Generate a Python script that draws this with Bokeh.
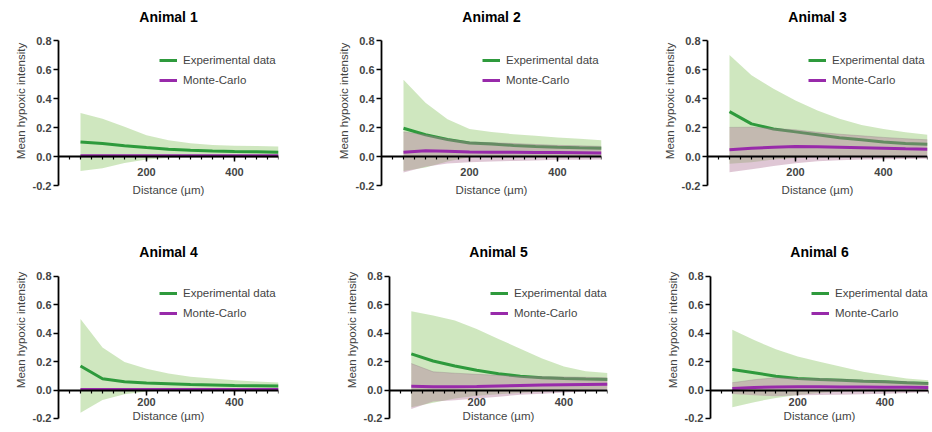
import numpy as np
from bokeh.plotting import figure
from bokeh.layouts import column, row
from bokeh.models import (Range1d, FixedTicker, Legend, LegendItem, LinearAxis,
                          NumeralTickFormatter, Label)
from bokeh.embed import file_html
from bokeh.resources import INLINE

# ---------------- data ----------------
distance = [50, 100, 150, 200, 250, 300, 350, 400, 450, 500]

titles = ["Animal 1", "Animal 2", "Animal 3", "Animal 4", "Animal 5", "Animal 6"]

# Experimental data: mean line with upper / lower edge of the shaded band
exp_mean_1 = [0.100, 0.090, 0.075, 0.062, 0.050, 0.043, 0.038, 0.035, 0.033, 0.030]
exp_upper_1 = [0.300, 0.260, 0.205, 0.147, 0.112, 0.091, 0.080, 0.075, 0.073, 0.070]
exp_lower_1 = [-0.100, -0.080, -0.045, -0.020, -0.010, -0.005, -0.005, -0.005, -0.007, -0.010]
mc_mean_1 = [0.005, 0.005, 0.005, 0.005, 0.005, 0.005, 0.005, 0.005, 0.005, 0.005]
mc_sd_1 = [0.004, 0.004, 0.004, 0.004, 0.004, 0.004, 0.004, 0.004, 0.004, 0.004]

exp_mean_2 = [0.195, 0.150, 0.117, 0.094, 0.087, 0.076, 0.069, 0.064, 0.060, 0.057]
exp_upper_2 = [0.530, 0.370, 0.257, 0.190, 0.169, 0.154, 0.143, 0.132, 0.122, 0.112]
exp_lower_2 = [-0.100, -0.075, -0.035, -0.005, 0.000, 0.000, 0.000, 0.000, 0.000, 0.000]
mc_mean_2 = [0.030, 0.040, 0.037, 0.031, 0.030, 0.030, 0.028, 0.027, 0.026, 0.025]
mc_sd_2 = [0.140, 0.110, 0.085, 0.070, 0.065, 0.060, 0.055, 0.050, 0.048, 0.045]

exp_mean_3 = [0.310, 0.225, 0.190, 0.170, 0.150, 0.130, 0.115, 0.100, 0.090, 0.085]
exp_upper_3 = [0.700, 0.560, 0.467, 0.386, 0.317, 0.260, 0.218, 0.190, 0.168, 0.150]
exp_lower_3 = [-0.050, -0.040, -0.020, -0.010, 0.000, 0.000, 0.005, 0.005, 0.005, 0.010]
mc_mean_3 = [0.046, 0.057, 0.064, 0.069, 0.067, 0.064, 0.061, 0.057, 0.053, 0.050]
mc_sd_3 = [0.155, 0.145, 0.130, 0.115, 0.100, 0.090, 0.082, 0.075, 0.070, 0.065]

exp_mean_4 = [0.170, 0.080, 0.058, 0.050, 0.045, 0.040, 0.036, 0.032, 0.030, 0.028]
exp_upper_4 = [0.500, 0.300, 0.198, 0.150, 0.117, 0.094, 0.081, 0.070, 0.060, 0.053]
exp_lower_4 = [-0.160, -0.070, -0.030, -0.010, 0.000, 0.005, 0.005, 0.005, 0.005, 0.005]
mc_mean_4 = [0.005, 0.005, 0.005, 0.005, 0.005, 0.005, 0.005, 0.005, 0.005, 0.005]
mc_sd_4 = [0.004, 0.004, 0.004, 0.004, 0.004, 0.004, 0.004, 0.004, 0.004, 0.004]

exp_mean_5 = [0.255, 0.205, 0.170, 0.140, 0.115, 0.097, 0.087, 0.082, 0.078, 0.075]
exp_upper_5 = [0.555, 0.525, 0.490, 0.430, 0.360, 0.292, 0.222, 0.167, 0.133, 0.120]
exp_lower_5 = [-0.120, -0.090, -0.060, -0.040, -0.030, -0.020, -0.010, 0.000, 0.005, 0.010]
mc_mean_5 = [0.027, 0.024, 0.024, 0.026, 0.029, 0.032, 0.035, 0.038, 0.040, 0.042]
mc_sd_5 = [0.160, 0.105, 0.095, 0.085, 0.075, 0.065, 0.060, 0.055, 0.050, 0.045]

exp_mean_6 = [0.145, 0.122, 0.098, 0.082, 0.075, 0.070, 0.063, 0.058, 0.051, 0.047]
exp_upper_6 = [0.425, 0.352, 0.288, 0.237, 0.200, 0.165, 0.129, 0.105, 0.082, 0.070]
exp_lower_6 = [-0.120, -0.085, -0.055, -0.035, -0.020, -0.010, -0.005, 0.000, 0.005, 0.010]
mc_mean_6 = [0.012, 0.018, 0.022, 0.023, 0.023, 0.022, 0.021, 0.020, 0.020, 0.019]
mc_sd_6 = [0.040, 0.055, 0.065, 0.060, 0.058, 0.055, 0.050, 0.045, 0.040, 0.033]

x_ticks = [200, 400]
x_minor_ticks = [0, 25, 50, 75, 100, 125, 150, 175, 200, 225, 250, 275, 300,
                 325, 350, 375, 400, 425, 450, 475, 500]
y_ticks = [-0.2, 0.0, 0.2, 0.4, 0.6, 0.8]

series_labels = ["Experimental data", "Monte-Carlo"]

panels = [
    (exp_mean_1, exp_upper_1, exp_lower_1, mc_mean_1, mc_sd_1),
    (exp_mean_2, exp_upper_2, exp_lower_2, mc_mean_2, mc_sd_2),
    (exp_mean_3, exp_upper_3, exp_lower_3, mc_mean_3, mc_sd_3),
    (exp_mean_4, exp_upper_4, exp_lower_4, mc_mean_4, mc_sd_4),
    (exp_mean_5, exp_upper_5, exp_lower_5, mc_mean_5, mc_sd_5),
    (exp_mean_6, exp_upper_6, exp_lower_6, mc_mean_6, mc_sd_6),
]

# ---------------- style ----------------
FONT = "Liberation Sans"
GREEN = "#2e9a3c"
PURPLE = "#982aaa"
GREEN_FILL = "#86c45e"
MC_FILL = "#b27a9c"

# (left border, frame width, right border) per panel
geom = [(58, 220, 45), (58, 220, 48), (58, 220, 3),
        (58, 220, 45), (66, 218, 42), (61, 218, 2)]
# (frame height, bottom border, y start, y end, legend y, title y)
rows_geom = [(201, 34, -0.31, 1.0758, 114, 185),
             (189, 6, -0.2423, 1.0887, 104, 173)]


def make_panel(k):
    r = k // 3
    left, fw, right = geom[k]
    fh, bottom, y0, y1, leg_y, title_y = rows_geom[r]
    p = figure(width=left + fw + right, height=fh + bottom,
               x_range=Range1d(0, 500), y_range=Range1d(y0, y1),
               x_axis_location=None, y_axis_location=None,
               output_backend="svg", toolbar_location=None,
               min_border_left=left, min_border_right=right,
               min_border_top=0, min_border_bottom=bottom)
    p.title.text = ""
    p.title.visible = False
    p.outline_line_color = None
    p.xgrid.visible = False
    p.ygrid.visible = False
    p.background_fill_color = "white"

    # panel title, centred over the plotting area
    p.add_layout(Label(x=250, y=title_y, y_units="screen", text=titles[k],
                       text_align="center", text_baseline="middle",
                       text_font=FONT, text_font_size="14px",
                       text_font_style="bold", text_color="black"))

    em, eu, el, mm, msd = (np.array(a) for a in panels[k])
    x = np.array(distance)

    p.varea(x=x, y1=el, y2=eu, fill_color=GREEN_FILL, fill_alpha=0.4)
    gl = p.line(x, em, line_color=GREEN, line_width=3)
    p.varea(x=x, y1=mm - msd, y2=mm + msd, fill_color=MC_FILL, fill_alpha=0.42)
    p.line(x, mm + msd, line_color="#8a7a80", line_width=0.6, line_alpha=0.5)
    pl = p.line(x, mm, line_color=PURPLE, line_width=3)

    # y axis
    ya = LinearAxis(ticker=FixedTicker(ticks=y_ticks),
                    formatter=NumeralTickFormatter(format="0.0"),
                    bounds=(-0.2, 0.8))
    ya.axis_label = "Mean hypoxic intensity"
    ya.axis_line_width = 1.8
    ya.major_tick_out = 5
    ya.major_tick_in = 0
    ya.minor_tick_out = 0
    ya.minor_tick_in = 0
    ya.major_tick_line_width = 1.5
    ya.major_label_standoff = 2
    ya.major_label_text_font = FONT
    ya.major_label_text_font_style = "bold"
    ya.major_label_text_font_size = "11px"
    ya.axis_label_text_font = FONT
    ya.axis_label_text_font_style = "normal"
    ya.axis_label_text_font_size = "11.5px"
    ya.axis_label_standoff = 3
    p.add_layout(ya, "left")

    # x axis crossing at y = 0
    xa = LinearAxis(ticker=FixedTicker(ticks=x_ticks, minor_ticks=x_minor_ticks),
                    fixed_location=0, bounds=(0, 500))
    xa.axis_label = "Distance (µm)"
    xa.axis_line_width = 1.8
    xa.major_tick_out = 5
    xa.major_tick_in = 0
    xa.minor_tick_out = 3
    xa.minor_tick_in = 0
    xa.major_tick_line_width = 1.5
    xa.minor_tick_line_width = 1.2
    xa.major_label_text_font = FONT
    xa.major_label_text_font_style = "bold"
    xa.major_label_text_font_size = "11px"
    xa.axis_label_text_font = FONT
    xa.axis_label_text_font_style = "normal"
    xa.axis_label_text_font_size = "11.5px"
    if r == 0:
        xa.major_label_standoff = 6
        xa.axis_label_standoff = 5
    else:
        xa.major_label_standoff = 3
        xa.axis_label_standoff = 0
    p.add_layout(xa, "below")

    legend = Legend(items=[LegendItem(label=series_labels[0], renderers=[gl]),
                           LegendItem(label=series_labels[1], renderers=[pl])],
                    location=(101, leg_y))
    legend.border_line_color = None
    legend.background_fill_alpha = 0
    legend.padding = 0
    legend.margin = 0
    legend.spacing = 6
    legend.glyph_width = 18
    legend.glyph_height = 14
    legend.label_height = 14
    legend.label_standoff = 6
    legend.label_text_font = FONT
    legend.label_text_font_size = "11.5px"
    legend.label_text_baseline = "middle"
    p.add_layout(legend)
    return p


figs = [make_panel(k) for k in range(6)]
layout = column(row(*figs[:3], spacing=0), row(*figs[3:], spacing=0), spacing=0)

open("out.html", "w").write(file_html(layout, INLINE))
